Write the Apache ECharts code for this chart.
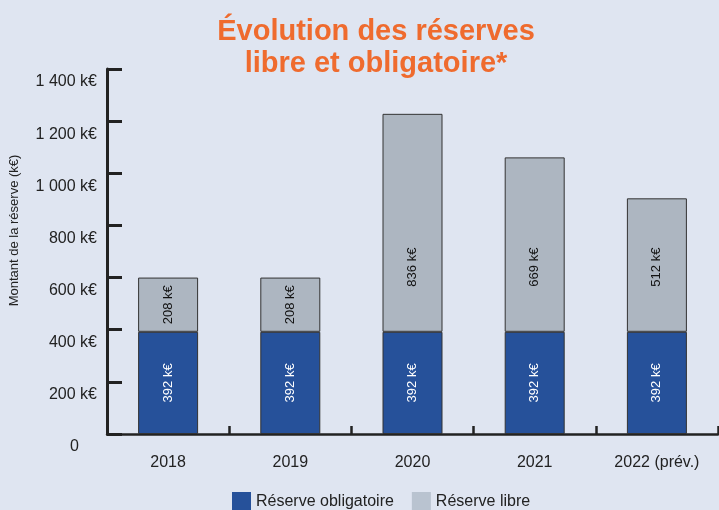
<!DOCTYPE html>
<html>
<head>
<meta charset="utf-8">
<script src="https://cdn.jsdelivr.net/npm/echarts@6/dist/echarts.min.js"></script>
<style>
  html, body { margin: 0; padding: 0; background: #dfe5f1; }
  #chart { width: 719px; height: 510px; }
</style>
</head>
<body>
<div id="chart"></div>
<script>
const years = ['2018', '2019', '2020', '2021', '2022 (prév.)']
const obligatoire = [392, 392, 392, 392, 392]
const libre = [208, 208, 836, 669, 512]
const yTicks = [0, 200, 400, 600, 800, 1000, 1200, 1400]
// the free-reserve labels never sit higher than this value level
const labelCap = 640

const fmtK = (v) => {
  if (v === 0) return '{z|0}'
  const s = v >= 1000 ? Math.floor(v / 1000) + ' ' + String(v % 1000).padStart(3, '0') : String(v)
  return s + ' k€'
}

const chart = echarts.init(document.getElementById('chart'))

const barLabel = (color) => ({
  show: true,
  position: 'inside',
  rotate: 90,
  color: color,
  fontSize: 13,
  formatter: '{c} k€'
})

const option = {
  backgroundColor: '#dfe5f1',
  textStyle: { fontFamily: 'Liberation Sans, Arial, sans-serif' },
  title: {
    text: 'Évolution des réserves\nlibre et obligatoire*',
    left: 371,
    top: 11,
    textAlign: 'center',
    textStyle: {
      color: '#ef6b2e',
      fontSize: 29,
      fontWeight: 'bold',
      lineHeight: 32
    }
  },
  legend: {
    data: [
      { name: 'Réserve obligatoire', itemStyle: { color: '#26519a', borderWidth: 0 } },
      { name: 'Réserve libre', itemStyle: { color: '#b9c3d0', borderWidth: 0 } }
    ],
    left: 227,
    top: 487,
    itemWidth: 19,
    itemHeight: 20,
    itemGap: 18,
    icon: 'rect',
    textStyle: { color: '#222', fontSize: 16 }
  },
  grid: {
    left: 104,
    right: 1,
    top: 69,
    bottom: 76
  },
  xAxis: {
    type: 'category',
    data: years,
    axisLine: { lineStyle: { color: '#222', width: 2.5 } },
    axisTick: { show: true, inside: true, length: 8, lineStyle: { color: '#222', width: 2.5 } },
    axisLabel: { color: '#222', fontSize: 16, margin: 21 }
  },
  yAxis: {
    type: 'value',
    min: yTicks[0],
    max: yTicks[yTicks.length - 1],
    interval: 200,
    name: 'Montant de la réserve (k€)',
    nameLocation: 'middle',
    nameGap: 86,
    nameTextStyle: { color: '#222', fontSize: 13, padding: [0, 0, 0, 42] },
    axisLine: { show: true, lineStyle: { color: '#222', width: 3 } },
    axisTick: { show: true, inside: true, length: 15, lineStyle: { color: '#222', width: 3 } },
    splitLine: { show: false },
    axisLabel: {
      color: '#222',
      fontSize: 16,
      margin: 10,
      verticalAlign: 'top',
      padding: [5, 0, 0, 0],
      formatter: fmtK,
      rich: { z: { fontSize: 16, color: '#222', padding: [0, 18, 0, 0] } }
    }
  },
  series: [
    {
      name: 'Réserve obligatoire',
      type: 'bar',
      stack: 'total',
      barWidth: 60,
      itemStyle: { color: '#26519a', borderColor: '#333', borderWidth: 1 },
      label: barLabel('#fff'),
      data: obligatoire
    },
    {
      name: 'Réserve libre',
      type: 'bar',
      stack: 'total',
      barWidth: 60,
      itemStyle: { color: '#adb6c1', borderColor: '#333', borderWidth: 1 },
      label: barLabel('#111'),
      data: libre
    }
  ]
}

chart.setOption(option)

// move the labels of the tall free-reserve bars down, like the original
// (label offset is in the rotated frame, so a screen shift down is -x)
const libreData = libre.map((v, i) => {
  const mid = obligatoire[i] + v / 2
  const target = Math.min(mid, labelCap)
  const dy = chart.convertToPixel({ yAxisIndex: 0 }, target) - chart.convertToPixel({ yAxisIndex: 0 }, mid)
  return { value: v, label: { offset: [-dy, 0] } }
})
chart.setOption({ series: [{}, { data: libreData }] })
</script>
</body>
</html>
